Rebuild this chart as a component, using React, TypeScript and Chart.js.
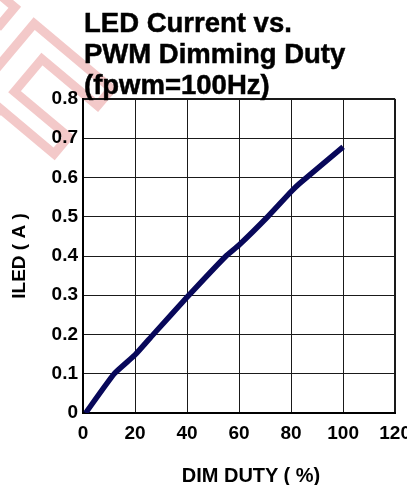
import React, { useEffect, useRef } from "react";
import { Chart, registerables } from "chart.js";

Chart.register(...registerables);

const dutyPercent = [1, 12, 20, 27, 40, 55, 60, 71, 80, 83.3, 100];
const ledCurrentA = [0, 0.1, 0.148, 0.2, 0.295, 0.4, 0.428, 0.5, 0.564, 0.585, 0.678];
const xTickValues = [0, 20, 40, 60, 80, 100, 120];
const yTickValues = [0, 0.1, 0.2, 0.3, 0.4, 0.5, 0.6, 0.7, 0.8];
const titleLines = ["LED Current vs.", "PWM Dimming Duty", "(fpwm=100Hz)"];
const xAxisTitle = "DIM DUTY ( %)";
const yAxisTitle = "ILED ( A )";
const watermarkText = "EF";

const FONT = "'Liberation Sans', Arial, Helvetica, sans-serif";

export default function App() {
  const canvasRef = useRef<HTMLCanvasElement | null>(null);

  useEffect(() => {
    const canvas = canvasRef.current;
    if (!canvas) return;
    const chart = new Chart(canvas, {
      type: "line",
      data: {
        datasets: [
          {
            data: dutyPercent.map((x, i) => ({ x, y: ledCurrentA[i] })),
            borderColor: "#08085a",
            borderWidth: 5.5,
            pointRadius: 0,
            tension: 0.15,
            fill: false,
            borderCapStyle: "butt",
          },
        ],
      },
      options: {
        responsive: false,
        animation: false,
        devicePixelRatio: 1,
        layout: { padding: { top: 99, right: 22, bottom: 0, left: 0 } },
        plugins: {
          legend: { display: false },
          title: { display: false },
          tooltip: { enabled: false },
        },
        scales: {
          x: {
            type: "linear",
            min: 0,
            max: 120,
            afterBuildTicks: (scale: any) => {
              scale.ticks = xTickValues.map((v) => ({ value: v }));
            },
            afterFit: (scale: any) => {
              scale.height = 72;
            },
            ticks: {
              color: "#000",
              padding: 9,
              maxRotation: 0,
              autoSkip: false,
              font: { family: FONT, size: 19, weight: "bold" },
              callback: (v: any) => String(v),
            },
            grid: {
              color: "#1a1a1a",
              lineWidth: (ctx: any) => (ctx.tick && ctx.tick.value === 120 ? 2 : 1),
              drawTicks: false,
            },
            border: { display: true, color: "#000", width: 2 },
          },
          y: {
            type: "linear",
            min: 0,
            max: 0.8,
            afterBuildTicks: (scale: any) => {
              scale.ticks = yTickValues.map((v) => ({ value: v }));
            },
            afterFit: (scale: any) => {
              scale.width = 83;
            },
            ticks: {
              color: "#000",
              padding: 5,
              autoSkip: false,
              font: { family: FONT, size: 19, weight: "bold" },
              callback: (v: any) => String(Math.round(Number(v) * 10) / 10),
            },
            grid: {
              color: "#1a1a1a",
              lineWidth: (ctx: any) => (ctx.tick && Math.abs(ctx.tick.value - 0.8) < 1e-9 ? 2 : 1),
              drawTicks: false,
            },
            border: { display: true, color: "#000", width: 2 },
            title: {
              display: true,
              text: yAxisTitle,
              color: "#000",
              padding: { top: 10, bottom: 0 },
              font: { family: FONT, size: 19, weight: "bold", lineHeight: 1 },
            },
          },
        },
      },
    } as any);
    return () => chart.destroy();
  }, []);

  return (
    <div
      style={{
        position: "fixed",
        left: 0,
        top: 0,
        width: 407,
        height: 485,
        overflow: "hidden",
        background: "#fff",
      }}
    >
      <div
        style={{
          position: "absolute",
          left: -58,
          top: -95,
          fontFamily: FONT,
          fontWeight: "bold",
          fontSize: 200,
          lineHeight: "200px",
          color: "transparent",
          WebkitTextStroke: "9px rgba(222,100,100,0.35)",
          transform: "rotate(40deg)",
          transformOrigin: "0 0",
          whiteSpace: "nowrap",
          pointerEvents: "none",
        } as any}
      >
        {watermarkText}
      </div>
      <canvas
        ref={canvasRef}
        width={420}
        height={485}
        style={{ position: "absolute", left: 0, top: 0, width: 420, height: 485 }}
      />
      <div
        style={{
          position: "absolute",
          left: 84,
          top: 7,
          fontFamily: FONT,
          fontWeight: "bold",
          fontSize: 27.5,
          lineHeight: "31px",
          color: "#000",
          WebkitTextStroke: "0.5px #000",
          whiteSpace: "nowrap",
        } as any}
      >
        {titleLines.map((t) => (
          <div key={t}>{t}</div>
        ))}
      </div>
      <div
        style={{
          position: "absolute",
          left: 251,
          top: 465,
          transform: "translateX(-50%)",
          fontFamily: FONT,
          fontWeight: "bold",
          fontSize: 20,
          lineHeight: "20px",
          color: "#000",
          whiteSpace: "nowrap",
        }}
      >
        {xAxisTitle}
      </div>
    </div>
  );
}
